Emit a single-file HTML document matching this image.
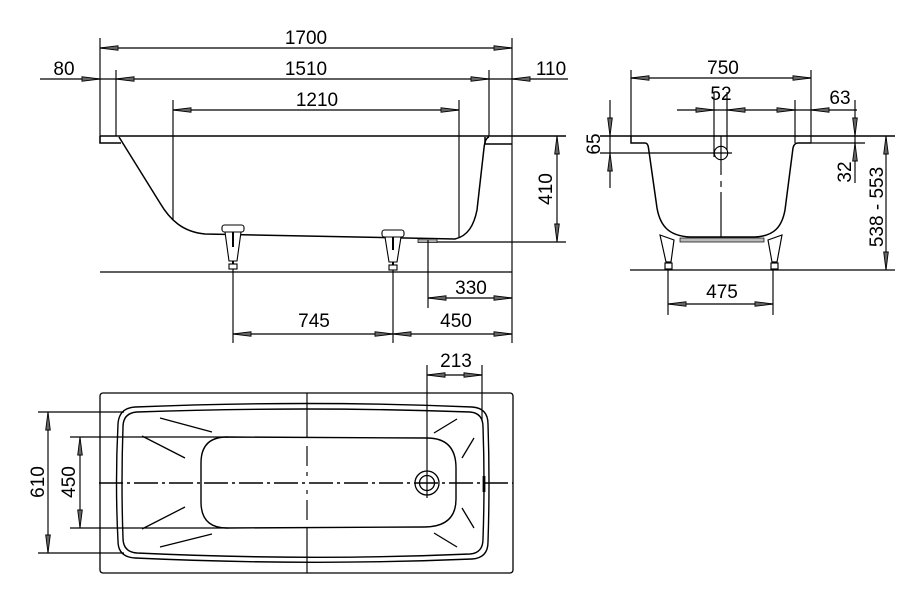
<!DOCTYPE html>
<html><head><meta charset="utf-8"><style>
html,body{margin:0;padding:0;background:#fff;}
svg{display:block;}
text{font-family:"Liberation Sans",Arial,sans-serif;font-size:19px;fill:#000;}
</style></head><body>
<svg width="922" height="602" viewBox="0 0 922 602" xmlns="http://www.w3.org/2000/svg">
<defs>
<polygon id="a" points="0,0 18,-2.3 18,2.3" fill="#666" stroke="#000" stroke-width="0.9"/>
</defs>
<g stroke="#000" stroke-width="1.15" fill="none">
<!-- ===== SIDE VIEW ===== -->
<line x1="100" y1="48" x2="512" y2="48"/>
<line x1="100" y1="38" x2="100" y2="143"/>
<line x1="512" y1="38" x2="512" y2="343"/>
<line x1="40" y1="79" x2="568" y2="79"/>
<line x1="116" y1="70" x2="116" y2="136"/>
<line x1="489" y1="70" x2="489" y2="136"/>
<line x1="173" y1="110" x2="459" y2="110"/>
<line x1="173" y1="100" x2="173" y2="220"/>
<line x1="459" y1="100" x2="459" y2="238"/>
<line x1="100" y1="136" x2="566" y2="136" stroke-width="1.5"/>
<path d="M100,136 V143 H121" stroke-width="1.5"/>
<path d="M119,137 L160,203 C170,220 183,232 205,234 L455,239 C468,236 474,225 477,210 L484,148 Q485,138 489,137" stroke-width="1.5"/>
<path d="M485,137 V144 H512" stroke-width="1.5"/>
<line x1="437" y1="242" x2="566" y2="242"/>
<line x1="557" y1="136" x2="557" y2="242"/>
<rect x="418" y="239" width="19" height="3.5" fill="#aaa" stroke-width="0.7"/>
<line x1="100" y1="272" x2="512" y2="272" stroke-width="1.3"/>
<line x1="428" y1="240" x2="428" y2="308"/>
<line x1="428" y1="298" x2="512" y2="298"/>
<line x1="233" y1="262" x2="233" y2="343"/>
<line x1="393" y1="262" x2="393" y2="343"/>
<line x1="233" y1="334" x2="512" y2="334"/>
<!-- legs side -->
<g fill="#fff" stroke-width="1.1">
<rect x="222" y="225" width="22" height="7" rx="2.5"/>
<polygon points="225,232 241,232 237,261 229,261"/>
<rect x="229" y="264" width="8" height="5"/>
<rect x="382" y="230" width="22" height="7" rx="2.5"/>
<polygon points="385,237 401,237 397,262 389,262"/>
<rect x="389" y="265" width="8" height="5"/>
</g>
<line x1="233" y1="232" x2="233" y2="247" stroke-width="2"/>
<line x1="233" y1="261" x2="233" y2="264" stroke-width="2"/>
<line x1="393" y1="237" x2="393" y2="250" stroke-width="2"/>
<line x1="393" y1="262" x2="393" y2="265" stroke-width="2"/>

<!-- ===== END VIEW ===== -->
<line x1="631" y1="78" x2="811" y2="78"/>
<line x1="631" y1="70" x2="631" y2="136"/>
<line x1="811" y1="70" x2="811" y2="143"/>
<line x1="600" y1="136" x2="895" y2="136" stroke-width="1.5"/>
<path d="M631,136 V143 H645 Q648,143 648.5,148 L657,208 C660,225 668,236 690,237 L755,237 C775,236 782,226 785,210 L793,148 Q794,143 798,143 H811" stroke-width="1.5"/>
<line x1="811" y1="143" x2="865" y2="143"/>
<line x1="795" y1="100" x2="795" y2="143"/>
<line x1="677" y1="110" x2="857" y2="110"/>
<line x1="714" y1="92" x2="714" y2="157"/>
<line x1="727" y1="92" x2="727" y2="150"/>
<circle cx="721" cy="153" r="6.7"/>
<line x1="600" y1="153" x2="732" y2="153"/>
<line x1="610" y1="100" x2="610" y2="188"/>
<line x1="855" y1="100" x2="855" y2="183"/>
<line x1="721" y1="136" x2="721" y2="175"/>
<line x1="721" y1="181" x2="721" y2="187"/>
<line x1="721" y1="192" x2="721" y2="237"/>
<g fill="#fff">
<polygon points="660,235 674,240 671,262 666,262"/>
<rect x="665" y="263" width="7" height="6"/>
<polygon points="768,240 782,235 777,262 772,262"/>
<rect x="771" y="263" width="7" height="6"/>
</g>
<rect x="680" y="238" width="84" height="4" fill="#bbb" stroke-width="0.7"/>
<line x1="630" y1="270" x2="895" y2="270" stroke-width="1.3"/>
<line x1="886" y1="136" x2="886" y2="270"/>
<line x1="668" y1="270" x2="668" y2="315"/>
<line x1="773" y1="270" x2="773" y2="315"/>
<line x1="668" y1="304" x2="773" y2="304"/>

<!-- ===== PLAN VIEW ===== -->
<rect x="100" y="393" width="413" height="180" rx="3" stroke-width="1.3"/>
<path d="M135,407 Q307,400 472,407 Q488,408 488,424 Q490,483 488,542 Q488,558 472,559 Q307,566 135,558 Q118,557 118,541 Q115,483 118,424 Q119,408 135,407 Z" stroke-width="1.4"/>
<path d="M137,412 Q307,406 470,412 Q483,413 483,427 Q485,483 483,539 Q483,553 470,554 Q307,561 137,553 Q123,552 123,538 Q121,483 123,427 Q123,413 137,412 Z" stroke-width="1.4"/>
<path d="M227,437 L427,438 Q456,438 456,468 L456,499 Q456,527 424,527 L227,528 Q201,528 201,502 L201,463 Q201,437 227,437 Z" stroke-width="1.4"/>
<line x1="38" y1="412" x2="124" y2="412"/>
<line x1="38" y1="553" x2="124" y2="553"/>
<line x1="70" y1="437" x2="228" y2="437"/>
<line x1="70" y1="528" x2="228" y2="528"/>
<line x1="48" y1="412" x2="48" y2="553"/>
<line x1="80" y1="437" x2="80" y2="528"/>
<line x1="99" y1="483" x2="513" y2="483" stroke-width="1.4" stroke-dasharray="24 4 3 4"/>
<line x1="307" y1="393" x2="307" y2="438"/>
<line x1="307" y1="446" x2="307" y2="466"/>
<line x1="307" y1="472" x2="307" y2="476"/>
<line x1="307" y1="490" x2="307" y2="494"/>
<line x1="307" y1="500" x2="307" y2="520"/>
<line x1="307" y1="528" x2="307" y2="573"/>
<circle cx="427" cy="483" r="12" stroke-width="1.3"/>
<circle cx="427" cy="483" r="7.5" stroke-width="1.3"/>
<line x1="427" y1="365" x2="427" y2="498"/>
<line x1="482" y1="365" x2="482" y2="420"/>
<line x1="427" y1="375" x2="482" y2="375"/>
<line x1="484" y1="476" x2="484" y2="492" stroke-width="2.8"/>
<g stroke-width="1.3">
<line x1="160" y1="418" x2="212" y2="432"/>
<line x1="142" y1="436" x2="185" y2="458"/>
<line x1="142" y1="529" x2="185" y2="507"/>
<line x1="160" y1="547" x2="212" y2="534"/>
<line x1="434" y1="433" x2="457" y2="419"/>
<line x1="462" y1="458" x2="474" y2="438"/>
<line x1="462" y1="508" x2="474" y2="528"/>
<line x1="434" y1="533" x2="457" y2="547"/>
</g>
</g>

<!-- arrows -->
<use href="#a" transform="translate(100,48)"/>
<use href="#a" transform="translate(512,48) rotate(180)"/>
<use href="#a" transform="translate(100,79) rotate(180)"/>
<use href="#a" transform="translate(116,79)"/>
<use href="#a" transform="translate(489,79) rotate(180)"/>
<use href="#a" transform="translate(512,79)"/>
<use href="#a" transform="translate(173,110)"/>
<use href="#a" transform="translate(459,110) rotate(180)"/>
<use href="#a" transform="translate(557,136) rotate(90)"/>
<use href="#a" transform="translate(557,242) rotate(-90)"/>
<use href="#a" transform="translate(428,298)"/>
<use href="#a" transform="translate(512,298) rotate(180)"/>
<use href="#a" transform="translate(233,334)"/>
<use href="#a" transform="translate(393,334) rotate(180)"/>
<use href="#a" transform="translate(393,334)"/>
<use href="#a" transform="translate(512,334) rotate(180)"/>

<use href="#a" transform="translate(631,78)"/>
<use href="#a" transform="translate(811,78) rotate(180)"/>
<use href="#a" transform="translate(714,110) rotate(180)"/>
<use href="#a" transform="translate(727,110)"/>
<use href="#a" transform="translate(795,110) rotate(180)"/>
<use href="#a" transform="translate(811,110)"/>
<use href="#a" transform="translate(610,136) rotate(-90)"/>
<use href="#a" transform="translate(610,153) rotate(90)"/>
<use href="#a" transform="translate(855,136) rotate(-90)"/>
<use href="#a" transform="translate(855,143) rotate(90)"/>
<use href="#a" transform="translate(886,136) rotate(90)"/>
<use href="#a" transform="translate(886,270) rotate(-90)"/>
<use href="#a" transform="translate(668,304)"/>
<use href="#a" transform="translate(773,304) rotate(180)"/>

<use href="#a" transform="translate(427,375)"/>
<use href="#a" transform="translate(482,375) rotate(180)"/>
<use href="#a" transform="translate(48,412) rotate(90)"/>
<use href="#a" transform="translate(48,553) rotate(-90)"/>
<use href="#a" transform="translate(80,437) rotate(90)"/>
<use href="#a" transform="translate(80,528) rotate(-90)"/>

<!-- labels -->
<g text-anchor="middle">
<text x="306" y="44">1700</text>
<text x="306" y="75">1510</text>
<text x="317" y="106">1210</text>
<text x="64" y="75">80</text>
<text x="551" y="75">110</text>
<text x="471" y="294">330</text>
<text x="314" y="327">745</text>
<text x="456" y="327">450</text>
<text transform="translate(545,189) rotate(-90)" y="7">410</text>
<text x="723" y="74">750</text>
<text x="721" y="100">52</text>
<text x="840" y="104">63</text>
<text transform="translate(593,144) rotate(-90)" y="7">65</text>
<text transform="translate(844,172) rotate(-90)" y="7">32</text>
<text transform="translate(876,207) rotate(-90)" y="7">538 - 553</text>
<text x="722" y="298">475</text>
<text x="456" y="367">213</text>
<text transform="translate(37,482) rotate(-90)" y="7">610</text>
<text transform="translate(68,482) rotate(-90)" y="7">450</text>
</g>
</svg>
</body></html>
